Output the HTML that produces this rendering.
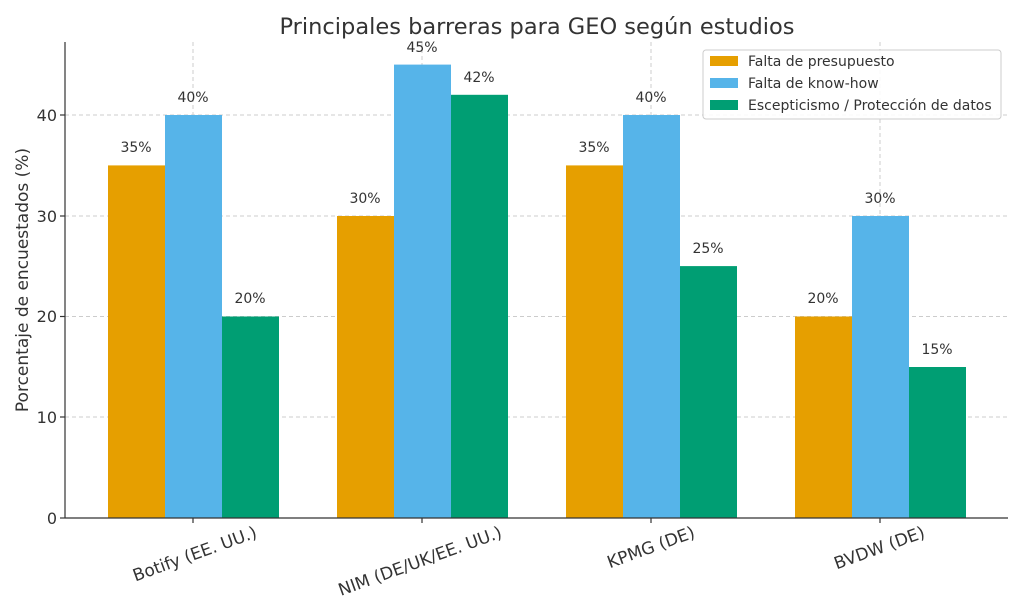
<!DOCTYPE html>
<html><head><meta charset="utf-8"><style>body{margin:0;background:#fff}svg{display:block}text{font-family:"DejaVu Sans","Liberation Sans",sans-serif;fill:#333}</style></head><body>
<svg width="1024" height="614" viewBox="0 0 1024 614" xmlns="http://www.w3.org/2000/svg">
<text x="537" y="34" font-size="22.5" text-anchor="middle">Principales barreras para GEO según estudios</text>
<g stroke="#ccc" stroke-dasharray="4,3" stroke-width="1">
<line x1="65" x2="1008" y1="417" y2="417"/><line x1="65" x2="1008" y1="316.5" y2="316.5"/><line x1="65" x2="1008" y1="216" y2="216"/><line x1="65" x2="1008" y1="115" y2="115"/>
<line x1="193" x2="193" y1="42" y2="518"/><line x1="422" x2="422" y1="42" y2="518"/><line x1="651" x2="651" y1="42" y2="518"/><line x1="880" x2="880" y1="42" y2="518"/>
</g>
<g>
<rect x="108" y="165.4" width="57" height="352.6" fill="#E69F00"/><rect x="165" y="115" width="57" height="403" fill="#56B4E9"/><rect x="222" y="316.5" width="57" height="201.5" fill="#009E73"/>
<rect x="337" y="216" width="57" height="302" fill="#E69F00"/><rect x="394" y="64.6" width="57" height="453.4" fill="#56B4E9"/><rect x="451" y="94.8" width="57" height="423.2" fill="#009E73"/>
<rect x="566" y="165.4" width="57" height="352.6" fill="#E69F00"/><rect x="623" y="115" width="57" height="403" fill="#56B4E9"/><rect x="680" y="266.1" width="57" height="251.9" fill="#009E73"/>
<rect x="795" y="316.5" width="57" height="201.5" fill="#E69F00"/><rect x="852" y="216" width="57" height="302" fill="#56B4E9"/><rect x="909" y="367" width="57" height="151" fill="#009E73"/>
</g>
<g font-size="14" text-anchor="middle">
<text x="136" y="152">35%</text><text x="193" y="102">40%</text><text x="250" y="303">20%</text>
<text x="365" y="203">30%</text><text x="422" y="52">45%</text><text x="479" y="82">42%</text>
<text x="594" y="152">35%</text><text x="651" y="102">40%</text><text x="708" y="253">25%</text>
<text x="823" y="303">20%</text><text x="880" y="203">30%</text><text x="937" y="354">15%</text>
</g>
<g stroke="#333" stroke-width="1.2"><line x1="65" y1="42" x2="65" y2="518"/><line x1="65" y1="518" x2="1008" y2="518"/>
<line x1="60" x2="65" y1="518" y2="518"/><line x1="60" x2="65" y1="417" y2="417"/><line x1="60" x2="65" y1="316.5" y2="316.5"/><line x1="60" x2="65" y1="216" y2="216"/><line x1="60" x2="65" y1="115" y2="115"/>
<line x1="193" x2="193" y1="518" y2="523"/><line x1="422" x2="422" y1="518" y2="523"/><line x1="651" x2="651" y1="518" y2="523"/><line x1="880" x2="880" y1="518" y2="523"/></g>
<g font-size="16" text-anchor="end"><text x="57" y="524">0</text><text x="57" y="423">10</text><text x="57" y="322">20</text><text x="57" y="222">30</text><text x="57" y="121">40</text></g>
<text transform="translate(28,280) rotate(-90)" font-size="17" text-anchor="middle">Porcentaje de encuestados (%)</text>
<g font-size="17" text-anchor="end">
<text transform="translate(258,537) rotate(-20)">Botify (EE. UU.)</text>
<text transform="translate(503,537) rotate(-20)">NIM (DE/UK/EE. UU.)</text>
<text transform="translate(696,537) rotate(-20)">KPMG (DE)</text>
<text transform="translate(926,537) rotate(-20)">BVDW (DE)</text>
</g>
<rect x="703" y="50" width="298" height="69" rx="3" fill="#fff" fill-opacity="0.85" stroke="#ccc"/>
<rect x="710" y="56" width="28" height="10" fill="#E69F00"/><rect x="710" y="78" width="28" height="10" fill="#56B4E9"/><rect x="710" y="100" width="28" height="10" fill="#009E73"/>
<g font-size="14"><text x="748" y="66">Falta de presupuesto</text><text x="748" y="88">Falta de know-how</text><text x="748" y="110">Escepticismo / Protección de datos</text></g>
</svg>
</body></html>
